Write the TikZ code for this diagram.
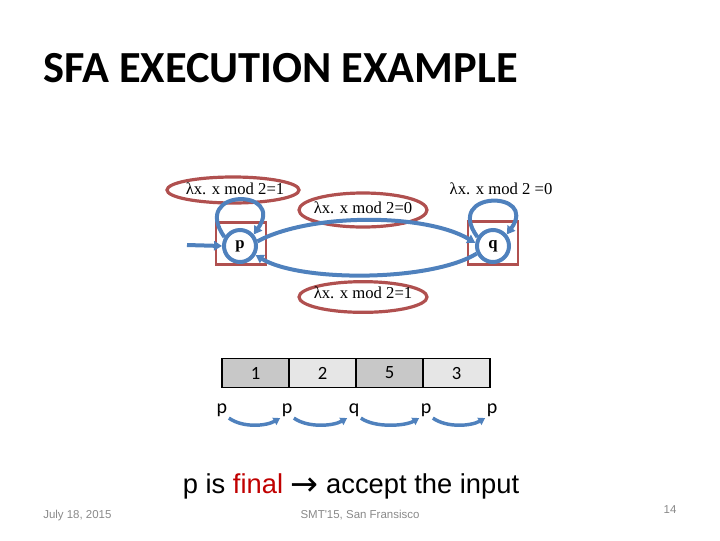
\documentclass[tikz,border=0pt]{standalone}
\usepackage{fontspec}
\setmainfont{Liberation Serif}
\newfontfamily\calibri{Carlito}
\newfontfamily\arial{Liberation Sans}
\newfontfamily\djv{DejaVu Sans}
\usetikzlibrary{arrows.meta,shapes.geometric}
\definecolor{sblue}{HTML}{4F81BD}
\definecolor{sred}{HTML}{B0504F}
\definecolor{fred}{HTML}{C00000}
\definecolor{foot}{HTML}{898989}
\definecolor{cdark}{HTML}{C8C8C8}
\definecolor{clight}{HTML}{E6E6E6}
\tikzset{
  guard/.style={draw=sred, line width=2.4pt, ellipse, inner sep=0pt},
  glabel/.style={font=\fontsize{12.5}{14}\selectfont},
  statebox/.style={draw=sred, line width=2.2pt, minimum width=37.5pt, minimum height=32pt, inner sep=0pt},
  statecirc/.style={draw=sblue, line width=3pt, circle, minimum size=24pt, inner sep=0pt},
  statetext/.style={font=\bfseries\fontsize{12.5}{14}\selectfont, inner sep=0pt},
  trans/.style={draw=sblue, line width=3pt, -{Triangle[length=6pt,width=7pt]}},
  cell/.style={draw=black, line width=1.2pt, minimum width=50.25pt, minimum height=21.5pt, inner sep=0pt, font=\calibri\fontsize{14}{16}\selectfont},
  slabel/.style={font=\calibri\fontsize{15}{17}\selectfont, inner sep=1pt},
  exec/.style={draw=sblue, line width=2.6pt, -{Triangle[length=5pt,width=6pt]}},
  foottext/.style={font=\arial\fontsize{8.6}{10}\selectfont, text=foot}
}
\begin{document}
\begin{tikzpicture}[x=0.75pt,y=-0.75pt]
\useasboundingbox (0,0) rectangle (720,540);
% title
\node[anchor=base west, inner sep=0pt, font=\calibri\bfseries\fontsize{33.3}{38}\selectfont] (title) at (43,82) {SFA EXECUTION EXAMPLE};
% guards
\node[guard, minimum width=99pt, minimum height=19.5pt] (g1) at (233,190) {};
\node[glabel] (g1t) at (235,189) {λx. x mod 2=1};
\node[guard, minimum width=96pt, minimum height=25.5pt] (g2) at (363,210) {};
\node[glabel] (g2t) at (363,208) {λx. x mod 2=0};
\node[glabel] (g3t) at (501,189) {λx. x mod 2 =0};
\node[guard, minimum width=96pt, minimum height=23pt] (g4) at (363,297) {};
\node[glabel] (g4t) at (363,293) {λx. x mod 2=1};
% states
\node[statebox] (pb) at (241,243.5) {};
\node[statebox] (qb) at (493,243) {};
\node[statecirc] (p) at (240,246) {};
\node[statecirc] (q) at (493,246) {};
\node[statetext] (pt) at (240,246) {p};
\node[statetext] (qt) at (493,246) {q};
\coordinate (init) at (187,245);
\draw[trans] (init) -- (p.west);
\draw[trans] (p.150) .. controls (190,188) and (286,188) .. (p.40);
\draw[trans] (q.150) .. controls (443,190) and (539,190) .. (q.40);
\draw[trans] (p.15) .. controls (310,213) and (425,213) .. (q.170);
\draw[trans] (q.205) .. controls (430,282) and (300,282) .. (p.330);
% tape
\node[cell, fill=cdark] (c1) at (255.5,373) {1};
\node[cell, fill=clight] (c2) at (322.5,373) {2};
\node[cell, fill=cdark] (c3) at (389.5,373) {5};
\node[cell, fill=clight] (c4) at (456.5,373) {3};
% run
\node[slabel] (s1) at (222,410) {p};
\node[slabel] (s2) at (287,410) {p};
\node[slabel] (s3) at (354,410) {q};
\node[slabel] (s4) at (426,410) {p};
\node[slabel] (s5) at (492,410) {p};
\draw[exec] (s1.south east) .. controls +(14,10) and +(-14,8) .. (s2.south west);
\draw[exec] (s2.south east) .. controls +(14,10) and +(-14,8) .. (s3.south west);
\draw[exec] (s3.south east) .. controls +(14,10) and +(-14,8) .. (s4.south west);
\draw[exec] (s4.south east) .. controls +(14,10) and +(-14,8) .. (s5.south west);
% conclusion
\node[anchor=base, inner sep=0pt, font=\arial\fontsize{20.5}{24}\selectfont] (concl) at (351,493) {p is \textcolor{fred}{final} \raisebox{-1.8pt}{\djv\fontsize{25}{24}\selectfont →} accept the input};
% footer
\node[foottext, anchor=base west, inner sep=0pt] (date) at (43,518) {July 18, 2015};
\node[foottext, anchor=base, inner sep=0pt] (conf) at (360,518) {SMT'15, San Fransisco};
\node[foottext, anchor=base, inner sep=0pt] (page) at (670,513) {14};
\end{tikzpicture}
\end{document}
